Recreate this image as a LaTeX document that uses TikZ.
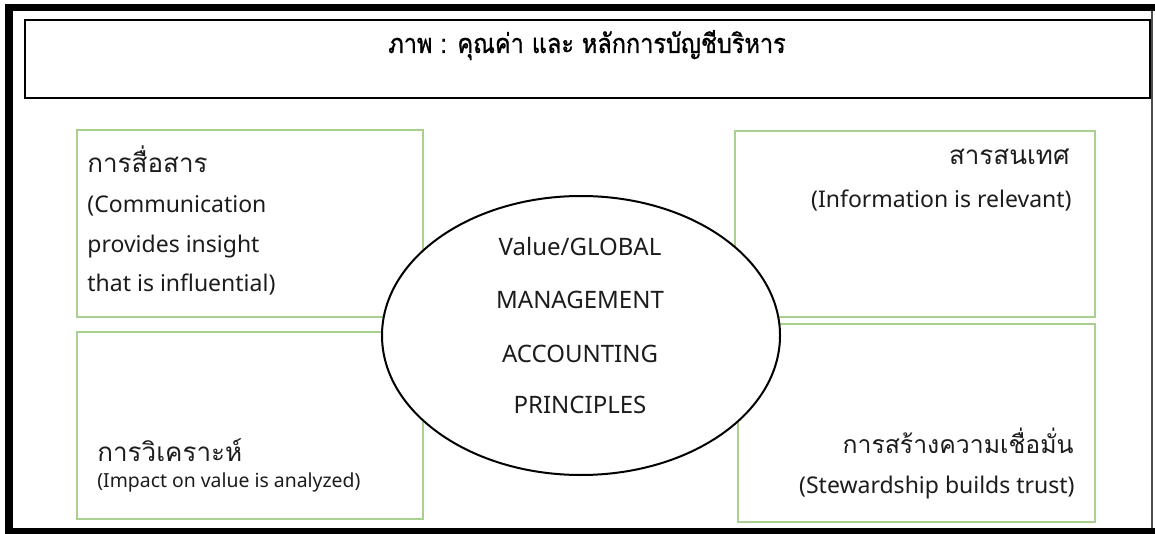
\documentclass[tikz,border=0pt]{standalone}
\usepackage{fontspec}
\setmainfont{Noto Sans}
\newfontfamily\thaifont[Script=Thai]{Loma}
\newfontfamily\thaititlefont[Script=Thai, FakeStretch=0.87, FakeBold=1]{Loma}
\usepackage{tikz}
\usetikzlibrary{shapes.geometric, positioning}
\definecolor{boxgreen}{RGB}{169, 208, 142}
\definecolor{inkgray}{RGB}{28, 28, 28}
\tikzset{
  greenbox/.style={draw=boxgreen, line width=0.8pt, rectangle, inner sep=0pt},
  thaitext/.style={font=\thaifont\fontsize{13}{16}\selectfont, text=inkgray, inner sep=0pt},
  engtext/.style={font=\fontsize{11.5}{14}\selectfont, text=inkgray, inner sep=0pt},
  coretext/.style={font=\fontsize{12}{14}\selectfont, text=inkgray, inner sep=0pt, anchor=base}
}

\begin{document}
\begin{tikzpicture}[x=0.5pt, y=-0.5pt]
  \useasboundingbox (0,0) rectangle (1155,534);

  % Page frame
  \fill[black] (5,4) rectangle (1155,11);
  \fill[black] (5,4) rectangle (13,534);
  \fill[black] (5,528) rectangle (1155,534);
  \draw[black!70, line width=0.8pt] (1152,11) -- (1152,528);

  % Title
  \node[draw, line width=1.2pt, minimum width=562.5pt, minimum height=39pt, inner sep=0pt] (titlebox) at (587.5,59) {};
  \node[thaitext, font=\thaititlefont\fontsize{13.5}{16}\selectfont, text=black, anchor=base] (title) at (587,53) {ภาพ : คุณค่า และ หลักการบัญชีบริหาร};

  % Four boxes
  \node[greenbox, minimum width=173pt, minimum height=93.5pt] (comm) at (250,223.5) {};
  \node[greenbox, minimum width=180pt, minimum height=93pt] (info) at (915,224) {};
  \node[greenbox, minimum width=173pt, minimum height=93.5pt] (anal) at (250,425.5) {};
  \node[greenbox, minimum width=178.5pt, minimum height=99pt] (trust) at (916.5,423) {};

  % Communication
  \node[thaitext, anchor=base west] (commth) at (87,173) {การสื่อสาร};
  \node[engtext, anchor=base west] (comm1) at (87,213) {(Communication};
  \node[engtext, anchor=base west] (comm2) at (87,252) {provides insight};
  \node[engtext, anchor=base west] (comm3) at (87,291) {that is influential)};

  % Information
  \node[thaitext, anchor=base east] (infoth) at (1070,165) {สารสนเทศ};
  \node[engtext, anchor=base east] (info1) at (1072,207) {(Information is relevant)};

  % Analysis
  \node[thaitext, anchor=base west] (analth) at (97,461) {การวิเคราะห์};
  \node[engtext, font=\fontsize{9.7}{12}\selectfont, anchor=base west] (anal1) at (97,487) {(Impact on value is analyzed)};

  % Stewardship
  \node[thaitext, font=\thaifont\fontsize{12.4}{16}\selectfont, anchor=base east] (trustth) at (1074,453) {การสร้างความเชื่อมั่น};
  \node[engtext, anchor=base east] (trust1) at (1075,493) {(Stewardship builds trust)};

  % Centre ellipse
  \node[ellipse, draw, fill=white, line width=1pt, minimum width=199pt, minimum height=139.5pt, inner sep=0pt] (core) at (581,335.5) {};
  \node[coretext] (core1) at (580,256) {Value/GLOBAL};
  \node[coretext] (core2) at (580,308) {MANAGEMENT};
  \node[coretext] (core3) at (580,362) {ACCOUNTING};
  \node[coretext] (core4) at (580,413) {PRINCIPLES};
\end{tikzpicture}
\end{document}
